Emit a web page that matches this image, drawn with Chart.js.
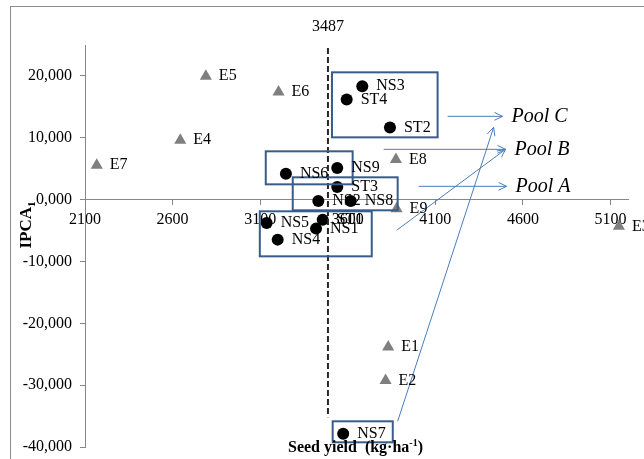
<!DOCTYPE html>
<html>
<head>
<meta charset="utf-8">
<script src="https://cdn.jsdelivr.net/npm/chart.js@4"></script>
<style>
  body { margin: 0; background: #fff; }
  canvas { display: block; }
</style>
</head>
<body>
<canvas id="chart" width="644" height="459"></canvas>
<script>
// environments (grey triangles)
const envNames = ['E1', 'E2', 'E3', 'E4', 'E5', 'E6', 'E7', 'E8', 'E9'];
const envYield = [3831, 3816, 5148, 2644, 2790, 3205, 2167, 3875, 3879];
const envIPCA = [-23850, -29240, -4320, 9600, 19950, 17410, 5550, 6470, -1460];

// genotypes (black dots)
const genNames = ['NS1', 'NS2', 'NS3', 'NS4', 'NS5', 'NS6', 'NS7', 'NS8', 'NS9', 'ST1', 'ST2', 'ST3', 'ST4'];
const genYield = [3419, 3432, 3683, 3200, 3137, 3247, 3574, 3617, 3540, 3457, 3841, 3540, 3594];
const genIPCA = [-4690, -230, 18330, -6470, -3790, 4200, -37860, -230, 5110, -3240, 11650, 2040, 16180];

const xTicks = [2100, 2600, 3100, 3600, 4100, 4600, 5100];
const yTicks = [20000, 10000, 0, -10000, -20000, -30000, -40000];
const yTickLabels = ['20,000', '10,000', '0,000', '-10,000', '-20,000', '-30,000', '-40,000'];

const meanYield = 3487;

// groups drawn as boxes: [xmin, xmax, ymin, ymax] in data units
const groupBoxes = [
    [3510, 4113, 10070, 20580],
    [3132, 3628, 2470, 7810],
    [3286, 3885, -1730, 3605],
    [3098, 3737, -9170, -1890],
    [3514, 3857, -39240, -35845],
];
// arrows: [x1, y1, x2, y2] in data units
const poolArrows = [
    [4170, 13470, 4484, 13470],
    [3805, 8130, 4501, 8130],
    [4005, 2150, 4507, 2150],
    [3879, -4960, 4501, 8130],
    [3885, -35845, 4433, 11690],
];
const poolNames = ['Pool C', 'Pool B', 'Pool A'];
const poolPos = [[4535, 13470], [4552, 8000], [4558, 2150]];

const SERIF = "'Liberation Serif', 'Times New Roman', serif";

function drawArrow(ctx, x1, y1, x2, y2) {
    const ang = Math.atan2(y2 - y1, x2 - x1);
    const len = 9;
    ctx.beginPath();
    ctx.moveTo(x1, y1);
    ctx.lineTo(x2, y2);
    ctx.moveTo(x2 - len * Math.cos(ang - 0.45), y2 - len * Math.sin(ang - 0.45));
    ctx.lineTo(x2, y2);
    ctx.lineTo(x2 - len * Math.cos(ang + 0.45), y2 - len * Math.sin(ang + 0.45));
    ctx.stroke();
}

const decorations = {
    id: 'decorations',
    beforeDraw(chart) {
        const ctx = chart.ctx;
        ctx.save();
        ctx.strokeStyle = '#8c8c8c';
        ctx.lineWidth = 1;
        ctx.strokeRect(10.5, 6.5, 700, 500);
        ctx.restore();
    },
    afterDatasetsDraw(chart) {
        const ctx = chart.ctx;
        const xs = chart.scales.x;
        const ys = chart.scales.y;
        const area = chart.chartArea;
        ctx.save();

        // mean yield line
        const mx = xs.getPixelForValue(meanYield);
        ctx.strokeStyle = '#262626';
        ctx.lineWidth = 2;
        ctx.setLineDash([6, 3]);
        ctx.beginPath();
        ctx.moveTo(mx, ys.getPixelForValue(24500));
        ctx.lineTo(mx, ys.getPixelForValue(-35200));
        ctx.stroke();
        ctx.setLineDash([]);
        ctx.fillStyle = '#000';
        ctx.font = '16px ' + SERIF;
        ctx.textAlign = 'center';
        ctx.textBaseline = 'alphabetic';
        ctx.fillText(String(meanYield), mx, area.top - 14);

        // boxes
        ctx.strokeStyle = '#385d8a';
        ctx.lineWidth = 2;
        groupBoxes.forEach(([x0, x1, y0, y1]) => {
            const l = xs.getPixelForValue(x0), r = xs.getPixelForValue(x1);
            const t = ys.getPixelForValue(y1), b = ys.getPixelForValue(y0);
            ctx.strokeRect(l, t, r - l, b - t);
        });

        // arrows
        ctx.strokeStyle = '#4a7ebb';
        ctx.lineWidth = 1;
        poolArrows.forEach(([x1, y1, x2, y2]) => {
            drawArrow(ctx, xs.getPixelForValue(x1), ys.getPixelForValue(y1),
                xs.getPixelForValue(x2), ys.getPixelForValue(y2));
        });

        // pool names
        ctx.fillStyle = '#000';
        ctx.font = 'italic 20px ' + SERIF;
        ctx.textAlign = 'left';
        ctx.textBaseline = 'middle';
        poolNames.forEach((name, i) => {
            ctx.fillText(name, xs.getPixelForValue(poolPos[i][0]), ys.getPixelForValue(poolPos[i][1]));
        });

        // point labels
        ctx.font = '16px ' + SERIF;
        envNames.forEach((name, i) => {
            ctx.fillText(name, xs.getPixelForValue(envYield[i]) + 13, ys.getPixelForValue(envIPCA[i]));
        });
        genNames.forEach((name, i) => {
            ctx.fillText(name, xs.getPixelForValue(genYield[i]) + 14, ys.getPixelForValue(genIPCA[i]));
        });

        // x axis title
        ctx.font = 'bold 16px ' + SERIF;
        ctx.textBaseline = 'alphabetic';
        let tx = 288;
        const ty = 452;
        const part1 = 'Seed yield  (kg\u00b7ha';
        ctx.fillText(part1, tx, ty);
        tx += ctx.measureText(part1).width;
        ctx.font = 'bold 10px ' + SERIF;
        ctx.fillText('-1', tx, ty - 6);
        tx += ctx.measureText('-1').width;
        ctx.font = 'bold 16px ' + SERIF;
        ctx.fillText(')', tx, ty);

        // y axis title
        ctx.translate(31, 225);
        ctx.rotate(-Math.PI / 2);
        ctx.font = 'bold 17px ' + SERIF;
        const main = 'IPCA';
        const w1 = ctx.measureText(main).width;
        ctx.font = 'bold 11px ' + SERIF;
        const w2 = ctx.measureText('1').width;
        const start = -(w1 + w2) / 2;
        ctx.font = 'bold 17px ' + SERIF;
        ctx.fillText(main, start, 0);
        ctx.font = 'bold 11px ' + SERIF;
        ctx.fillText('1', start + w1, 4);

        ctx.restore();
    }
};

const axisColor = '#868686';

new Chart(document.getElementById('chart'), {
    type: 'scatter',
    data: {
        datasets: [
            {
                label: 'Environments',
                data: envYield.map((x, i) => ({ x, y: envIPCA[i] })),
                pointStyle: 'triangle',
                pointRadius: 7,
                borderWidth: 0,
                backgroundColor: '#7f7f7f',
                borderColor: '#7f7f7f',
            },
            {
                label: 'Genotypes',
                data: genYield.map((x, i) => ({ x, y: genIPCA[i] })),
                pointStyle: 'circle',
                pointRadius: 6,
                borderWidth: 0,
                backgroundColor: '#000',
                borderColor: '#000',
            },
        ],
    },
    options: {
        responsive: false,
        animation: false,
        events: [],
        layout: { padding: { left: 11, top: 45, right: 16, bottom: 12 } },
        plugins: {
            legend: { display: false },
            tooltip: { enabled: false },
        },
        scales: {
            x: {
                type: 'linear',
                min: 2100,
                max: 5200,
                position: { y: 0 },
                afterBuildTicks: (s) => { s.ticks = xTicks.map((v) => ({ value: v })); },
                grid: { drawOnChartArea: false, drawTicks: true, tickLength: 5, color: axisColor },
                border: { display: true, color: axisColor, width: 1 },
                ticks: {
                    padding: 6,
                    maxRotation: 0,
                    autoSkip: false,
                    color: '#000',
                    font: { family: SERIF, size: 16 },
                    callback: (v) => String(v),
                },
            },
            y: {
                type: 'linear',
                min: -40000,
                max: 25000,
                position: 'left',
                afterFit: (s) => {
                    s.width = 74;
                    s.paddingTop = 0;
                    s.paddingBottom = 0;
                },
                afterBuildTicks: (s) => { s.ticks = yTicks.map((v) => ({ value: v })); },
                grid: { drawOnChartArea: false, drawTicks: true, tickLength: 5, color: axisColor },
                border: { display: true, color: axisColor, width: 1 },
                ticks: {
                    padding: 8,
                    autoSkip: false,
                    color: '#000',
                    font: { family: SERIF, size: 16 },
                    callback: (v) => yTickLabels[yTicks.indexOf(v)],
                },
            },
        },
    },
    plugins: [decorations],
});
</script>
</body>
</html>
